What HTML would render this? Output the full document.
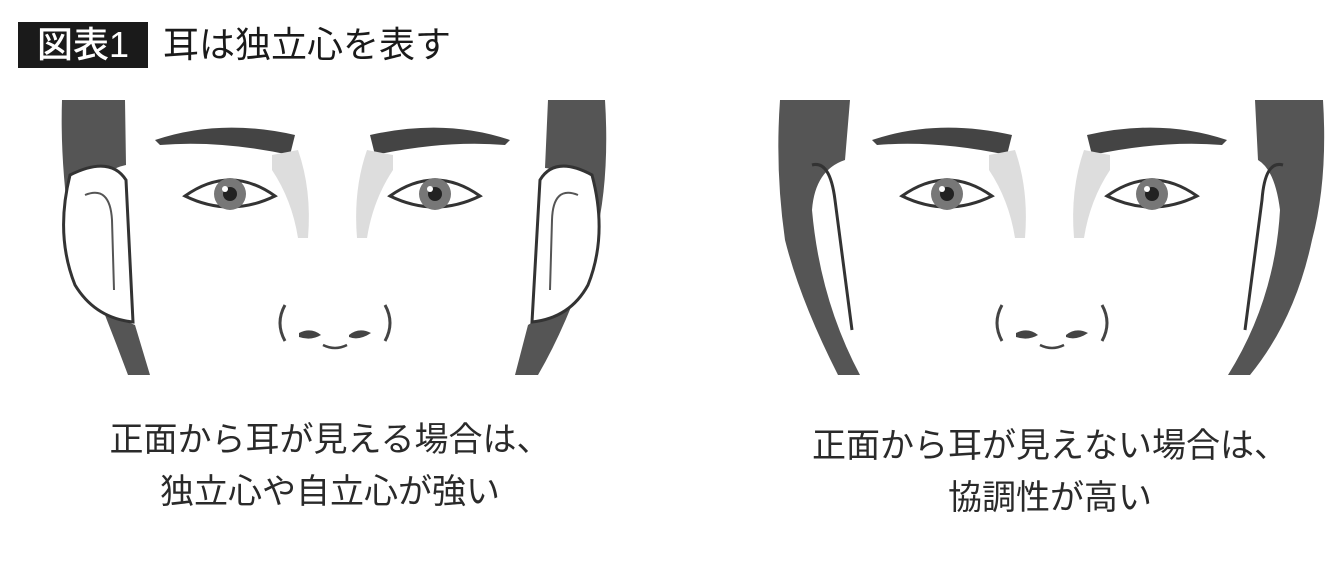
<!DOCTYPE html>
<html><head><meta charset="utf-8">
<style>
html,body{margin:0;padding:0;background:#fff;}
body{width:1340px;height:588px;position:relative;overflow:hidden;font-family:"Liberation Sans","Noto Sans CJK JP",sans-serif;}
.tb{position:absolute;left:18px;top:22px;width:130px;height:46px;background:#1a1a1a;color:#fff;font-size:36px;line-height:46px;text-align:center;font-weight:500;}
.tt{position:absolute;left:163px;top:20px;font-size:36px;line-height:50px;color:#1a1a1a;}
.cap{position:absolute;font-size:34px;line-height:52px;color:#2a2a2a;text-align:center;width:640px;}
svg{position:absolute;left:0;top:0;}
</style></head><body>
<div class="tb">図表1</div>
<div class="tt">耳は独立心を表す</div>
<svg width="1340" height="588">
<defs>
<g id="eye">
<path d="M-45 0 Q0 -32 45 0 Q0 22 -45 0Z" fill="#fff" stroke="#333" stroke-width="3"/>
<circle cx="0" cy="-2" r="16" fill="#777"/>
<circle cx="0" cy="-2" r="7" fill="#222"/>
<circle cx="-5" cy="-7" r="3" fill="#fff"/>
</g>
<g id="nose">
<path d="M0 0 Q-10 18 0 36" fill="none" stroke="#444" stroke-width="3"/>
<path d="M14 28 Q26 22 36 30 Q26 36 14 32Z" fill="#444"/>
<path d="M38 40 Q50 46 62 40" fill="none" stroke="#444" stroke-width="2.5"/>
<path d="M64 30 Q74 22 86 28 Q74 36 64 32Z" fill="#444"/>
<path d="M100 0 Q110 18 100 36" fill="none" stroke="#444" stroke-width="3"/>
</g>
</defs>
<!-- LEFT FACE -->
<path d="M62 100 L125 100 L126 165 Q100 170 85 200 L80 260 Q95 310 135 325 L150 375 L128 375 Q100 300 70 230 Q60 160 62 100Z" fill="#555"/>
<path d="M548 100 L605 100 Q610 180 595 240 Q570 320 538 375 L515 375 L528 325 Q570 300 582 260 L582 200 Q570 170 545 168Z" fill="#555"/>
<path d="M70 175 Q110 155 126 180 L133 322 Q95 318 75 285 Q55 235 70 175Z" fill="#fff" stroke="#333" stroke-width="3"/>
<path d="M85 195 Q110 185 112 220 L114 290" fill="none" stroke="#555" stroke-width="2"/>
<path d="M592 175 Q555 155 540 180 L532 322 Q570 318 588 285 Q608 235 592 175Z" fill="#fff" stroke="#333" stroke-width="3"/>
<path d="M578 195 Q553 185 552 220 L550 290" fill="none" stroke="#555" stroke-width="2"/>
<path d="M155 140 Q220 118 295 135 L290 155 Q220 140 160 145Z" fill="#444"/>
<path d="M370 135 Q445 118 510 140 L505 145 Q445 140 375 155Z" fill="#444"/>
<path d="M272 155 L298 150 Q312 190 308 238 L298 238 Q292 200 272 170Z" fill="#ddd"/>
<path d="M393 155 L367 150 Q353 190 357 238 L367 238 Q373 200 393 170Z" fill="#ddd"/>
<use href="#eye" x="230" y="196"/>
<use href="#eye" x="435" y="196"/>
<use href="#nose" x="285" y="305"/>
<!-- RIGHT FACE -->
<path d="M780 100 L850 100 L845 160 Q815 170 812 210 Q820 300 860 375 L838 375 Q800 300 785 240 Q775 170 780 100Z" fill="#555"/>
<path d="M1255 100 L1323 100 Q1328 180 1312 240 Q1295 320 1250 375 L1228 375 Q1275 300 1280 210 Q1275 170 1258 160Z" fill="#555"/>
<path d="M812 165 Q830 160 835 200 L852 330" fill="none" stroke="#333" stroke-width="3"/>
<path d="M1283 165 Q1265 160 1262 200 L1245 330" fill="none" stroke="#333" stroke-width="3"/>
<path d="M872 140 Q937 118 1012 135 L1007 155 Q937 140 877 145Z" fill="#444"/>
<path d="M1087 135 Q1162 118 1227 140 L1222 145 Q1162 140 1092 155Z" fill="#444"/>
<path d="M989 155 L1015 150 Q1029 190 1025 238 L1015 238 Q1009 200 989 170Z" fill="#ddd"/>
<path d="M1110 155 L1084 150 Q1070 190 1074 238 L1084 238 Q1090 200 1110 170Z" fill="#ddd"/>
<use href="#eye" x="947" y="196"/>
<use href="#eye" x="1152" y="196"/>
<use href="#nose" x="1002" y="305"/>
</svg>
<div class="cap" style="left:10px;top:414px;">正面から耳が見える場合は、<br>独立心や自立心が強い</div>
<div class="cap" style="left:730px;top:420px;">正面から耳が見えない場合は、<br>協調性が高い</div>
</body></html>
